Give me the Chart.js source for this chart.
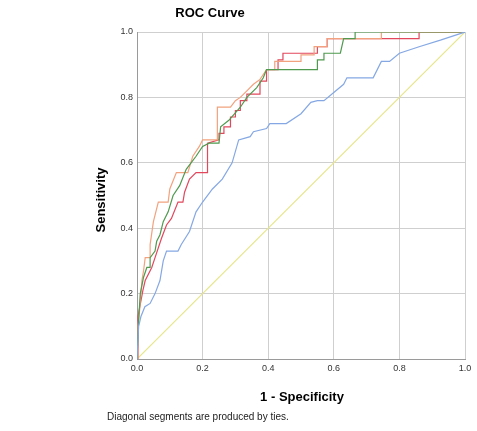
<!DOCTYPE html>
<html lang="en">
<head>
<meta charset="UTF-8">
<title>ROC Curve</title>
<style>
  html, body { margin: 0; padding: 0; background: #fff; }
  #wrap { width: 477px; height: 431px; }
</style>
</head>
<body>
<div id="wrap"><canvas id="roc" width="477" height="431"></canvas></div>
<script src="https://cdn.jsdelivr.net/npm/chart.js@4"></script>
<script>
// values (1 - specificity / sensitivity)
const blueX = [0, 0.005, 0.012, 0.024, 0.04, 0.055, 0.07, 0.08, 0.09, 0.125, 0.135, 0.16, 0.18, 0.2, 0.23, 0.26, 0.29, 0.31, 0.345, 0.355, 0.395, 0.405, 0.455, 0.5, 0.53, 0.55, 0.57, 0.6, 0.63, 0.64, 0.72, 0.745, 0.77, 0.8, 0.86, 0.925, 1];
const blueY = [0, 0.1, 0.13, 0.16, 0.17, 0.2, 0.24, 0.3, 0.33, 0.33, 0.35, 0.39, 0.45, 0.48, 0.52, 0.55, 0.6, 0.67, 0.68, 0.695, 0.705, 0.72, 0.72, 0.75, 0.785, 0.79, 0.79, 0.815, 0.84, 0.86, 0.86, 0.91, 0.91, 0.935, 0.955, 0.975, 1];

const greenX = [0, 0.005, 0.01, 0.02, 0.03, 0.04, 0.04, 0.055, 0.06, 0.07, 0.08, 0.095, 0.11, 0.13, 0.15, 0.18, 0.2, 0.22, 0.25, 0.255, 0.28, 0.315, 0.335, 0.365, 0.385, 0.395, 0.45, 0.5, 0.55, 0.55, 0.57, 0.57, 0.62, 0.63, 0.665, 0.665, 1];
const greenY = [0, 0.12, 0.2, 0.25, 0.28, 0.28, 0.31, 0.33, 0.36, 0.38, 0.42, 0.45, 0.5, 0.53, 0.58, 0.62, 0.65, 0.66, 0.66, 0.71, 0.73, 0.77, 0.8, 0.83, 0.86, 0.885, 0.885, 0.885, 0.885, 0.915, 0.915, 0.935, 0.935, 0.98, 0.98, 1, 1];

const redX = [0, 0.003, 0.018, 0.025, 0.045, 0.055, 0.075, 0.09, 0.105, 0.125, 0.14, 0.145, 0.16, 0.18, 0.215, 0.215, 0.25, 0.25, 0.265, 0.265, 0.285, 0.285, 0.3, 0.3, 0.315, 0.315, 0.335, 0.335, 0.375, 0.375, 0.395, 0.395, 0.43, 0.43, 0.445, 0.445, 0.55, 0.55, 0.58, 0.58, 0.86, 0.86, 1];
const redY = [0, 0.13, 0.21, 0.24, 0.28, 0.31, 0.37, 0.41, 0.43, 0.48, 0.48, 0.51, 0.55, 0.57, 0.57, 0.66, 0.67, 0.69, 0.69, 0.71, 0.71, 0.74, 0.74, 0.76, 0.76, 0.79, 0.79, 0.81, 0.81, 0.85, 0.85, 0.885, 0.885, 0.915, 0.915, 0.935, 0.935, 0.955, 0.955, 0.98, 0.98, 1, 1];

const orangeX = [0, 0.003, 0.008, 0.012, 0.015, 0.02, 0.025, 0.04, 0.04, 0.05, 0.065, 0.095, 0.1, 0.12, 0.155, 0.17, 0.19, 0.2, 0.245, 0.245, 0.285, 0.3, 0.315, 0.335, 0.355, 0.375, 0.395, 0.42, 0.42, 0.5, 0.5, 0.54, 0.54, 0.58, 0.58, 0.745, 0.745, 1];
const orangeY = [0, 0.1, 0.15, 0.2, 0.24, 0.27, 0.31, 0.31, 0.35, 0.42, 0.48, 0.48, 0.52, 0.57, 0.57, 0.62, 0.65, 0.67, 0.67, 0.77, 0.77, 0.79, 0.8, 0.82, 0.84, 0.855, 0.885, 0.885, 0.91, 0.91, 0.93, 0.93, 0.955, 0.955, 0.98, 0.98, 1, 1];

const refX = [0, 1];
const refY = [0, 1];

const tickValues = [0, 0.2, 0.4, 0.6, 0.8, 1.0];

function pts(xs, ys) {
    return xs.map((x, i) => ({ x: x, y: ys[i] }));
}

function line(label, xs, ys, color) {
    return {
        label: label,
        data: pts(xs, ys),
        showLine: true,
        borderColor: color,
        borderWidth: 1.2,
        pointRadius: 0,
        tension: 0,
        fill: false
    };
}

// titles drawn by hand so they sit where they do in the original
const textPlugin = {
    id: 'texts',
    afterDraw(chart) {
        const c = chart.ctx;
        c.save();
        c.fillStyle = '#000';
        c.textBaseline = 'middle';
        c.textAlign = 'center';
        c.font = 'bold 13px "Liberation Sans", Arial, sans-serif';
        c.fillText('ROC Curve', 210, 13);
        c.fillText('1 - Specificity', 302, 397);
        c.save();
        c.translate(101, 200);
        c.rotate(-Math.PI / 2);
        c.fillText('Sensitivity', 0, 0);
        c.restore();
        c.textAlign = 'left';
        c.font = '10px "Liberation Sans", Arial, sans-serif';
        c.fillStyle = '#222';
        c.fillText('Diagonal segments are produced by ties.', 107, 417);
        c.restore();
    }
};

const axisOpts = (size) => ({
    type: 'linear',
    min: 0,
    max: 1,
    afterBuildTicks(axis) {
        axis.ticks = tickValues.map(v => ({ value: v }));
    },
    ticks: {
        callback: (v) => Number(v).toFixed(1),
        font: { family: '"Liberation Sans", Arial, sans-serif', size: 9 },
        color: '#333',
        padding: 4,
        maxRotation: 0
    },
    grid: { color: '#cfcfcf', lineWidth: 1, drawTicks: false },
    border: { color: '#9a9a9a', width: 1 },
    afterFit: size
});

new Chart(document.getElementById('roc'), {
    type: 'scatter',
    data: {
        datasets: [
            line('Blue', blueX, blueY, '#85a8e4'),
            line('Green', greenX, greenY, '#4f9a4f'),
            line('Orange', orangeX, orangeY, '#f2a27e'),
            line('Red', redX, redY, '#e2475c'),
            line('Reference', refX, refY, '#e6e68a')
        ]
    },
    options: {
        responsive: false,
        animation: false,
        layout: { padding: { left: 0, top: 32, right: 12, bottom: 0 } },
        plugins: {
            legend: { display: false },
            title: { display: false },
            tooltip: { enabled: false }
        },
        scales: {
            x: axisOpts((s) => { s.height = 72; }),
            y: axisOpts((s) => { s.width = 137; })
        }
    },
    plugins: [textPlugin]
});
</script>
</body>
</html>
